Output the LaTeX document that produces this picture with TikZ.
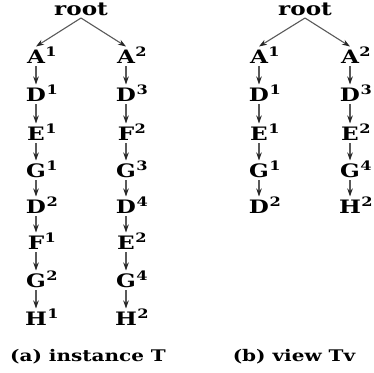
\documentclass[tikz,border=0pt]{standalone}
\usepackage{fontspec}
\setmainfont{DejaVu Serif}
\usetikzlibrary{arrows.meta}
\newcommand\wide[1]{\scalebox{1.25}[1]{#1}}
\newcommand\supx[2]{\wide{#1}\rlap{\hspace{0.5pt}\wide{\textsuperscript{#2}}}}
\begin{document}
\begin{tikzpicture}[x=1pt,y=-1pt,
  lab/.style={font=\fontsize{18.5}{20}\selectfont\bfseries, inner sep=0pt, outer sep=3pt, text height=13.5pt, text depth=0pt, anchor=base},
  captext/.style={font=\fontsize{16}{18}\selectfont\bfseries, inner sep=0pt, anchor=base},
  edge/.style={draw=gray!70!black, line width=1.1pt, -{Stealth[length=8pt,width=5.5pt,black!85]}}]
\useasboundingbox (0,0) rectangle (374,372);
% left tree
\node[lab] (r1) at (81,15) {\wide{root}};
\node[lab] (a1) at (36,63) {\supx{A}{1}};
\node[lab] (a2) at (126,63) {\supx{A}{2}};
\node[lab] (d1) at (36,101) {\supx{D}{1}};
\node[lab] (e1) at (36,140) {\supx{E}{1}};
\node[lab] (g1) at (36,177) {\supx{G}{1}};
\node[lab] (d2) at (36,213) {\supx{D}{2}};
\node[lab] (f1) at (36,249) {\supx{F}{1}};
\node[lab] (g2) at (36,287) {\supx{G}{2}};
\node[lab] (h1) at (36,325) {\supx{H}{1}};
\node[lab] (d3) at (126,101) {\supx{D}{3}};
\node[lab] (f2) at (126,140) {\supx{F}{2}};
\node[lab] (g3) at (126,177) {\supx{G}{3}};
\node[lab] (d4) at (126,213) {\supx{D}{4}};
\node[lab] (e2) at (126,249) {\supx{E}{2}};
\node[lab] (g4) at (126,287) {\supx{G}{4}};
\node[lab] (h2) at (126,325) {\supx{H}{2}};
\draw[edge] (r1.south) -- (a1.north);
\draw[edge] (r1.south) -- (a2.north);
\draw[edge] (a1) -- (d1);
\draw[edge] (d1) -- (e1);
\draw[edge] (e1) -- (g1);
\draw[edge] (g1) -- (d2);
\draw[edge] (d2) -- (f1);
\draw[edge] (f1) -- (g2);
\draw[edge] (g2) -- (h1);
\draw[edge] (a2) -- (d3);
\draw[edge] (d3) -- (f2);
\draw[edge] (f2) -- (g3);
\draw[edge] (g3) -- (d4);
\draw[edge] (d4) -- (e2);
\draw[edge] (e2) -- (g4);
\draw[edge] (g4) -- (h2);
% right tree
\node[lab] (vr) at (305,15) {\wide{root}};
\node[lab] (va1) at (259,63) {\supx{A}{1}};
\node[lab] (va2) at (350,63) {\supx{A}{2}};
\node[lab] (vd1) at (259,101) {\supx{D}{1}};
\node[lab] (ve1) at (259,140) {\supx{E}{1}};
\node[lab] (vg1) at (259,177) {\supx{G}{1}};
\node[lab] (vd2) at (259,213) {\supx{D}{2}};
\node[lab] (vd3) at (350,101) {\supx{D}{3}};
\node[lab] (ve2) at (350,140) {\supx{E}{2}};
\node[lab] (vg4) at (350,177) {\supx{G}{4}};
\node[lab] (vh2) at (350,213) {\supx{H}{2}};
\draw[edge] (vr.south) -- (va1.north);
\draw[edge] (vr.south) -- (va2.north);
\draw[edge] (va1) -- (vd1);
\draw[edge] (vd1) -- (ve1);
\draw[edge] (ve1) -- (vg1);
\draw[edge] (vg1) -- (vd2);
\draw[edge] (va2) -- (vd3);
\draw[edge] (vd3) -- (ve2);
\draw[edge] (ve2) -- (vg4);
\draw[edge] (vg4) -- (vh2);
% captions
\node[captext] (ca) at (88,361) {\wide{(a) instance T}};
\node[captext] (cb) at (294,361) {\wide{(b) view Tv}};
\end{tikzpicture}
\end{document}
